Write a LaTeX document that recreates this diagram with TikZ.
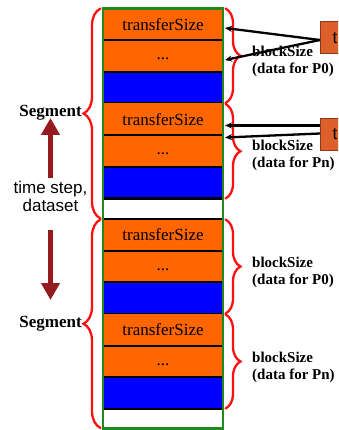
\documentclass[tikz,border=0pt]{standalone}
\usepackage{fontspec}
\setmainfont{Liberation Serif}
\setsansfont{Liberation Sans}
\usetikzlibrary{arrows.meta,decorations.pathreplacing}
\definecolor{rowor}{HTML}{FF6600}
\definecolor{rowbl}{HTML}{0000FF}
\definecolor{colgr}{HTML}{1E8A1E}
\definecolor{brred}{HTML}{FF1010}
\definecolor{arrred}{HTML}{951B1E}
\definecolor{boxor}{HTML}{DD5F2A}
\definecolor{boxbd}{HTML}{8A3A18}
\tikzset{
  cell/.style={minimum width=120pt, minimum height=31.67pt, inner sep=0pt, outer sep=0pt,
    font=\fontsize{17}{17}\selectfont},
  orcell/.style={cell, fill=rowor},
  blcell/.style={cell, fill=rowbl},
  sepline/.style={line width=2pt, black},
  botline/.style={line width=2.6pt, black},
  colside/.style={line width=2.6pt, colgr},
  bracestyle/.style={brred, line width=2.3pt, line cap=round,
    decorate, decoration={brace, amplitude=#1}},
  seglabel/.style={font=\fontsize{17}{17}\selectfont\bfseries, inner sep=0pt},
  blabel/.style={font=\fontsize{15}{17}\selectfont\bfseries, align=left, anchor=north west, inner sep=0pt},
  bigarrow/.style={arrred, line width=5pt, -{Triangle[length=17pt,width=18pt]}},
  tbox/.style={fill=boxor, draw=boxbd, line width=1pt, minimum height=32pt, text width=20pt,
    inner xsep=12pt, align=left, anchor=west, font=\sffamily\fontsize{17}{17}\selectfont},
  ptr/.style={black, line width=2.3pt, -{Stealth[length=7pt,width=6pt]}}
}
\begin{document}
\begin{tikzpicture}[x=1pt,y=-1pt]
\useasboundingbox (0,0) rectangle (338,430);
\clip (0,0) rectangle (338,430);
% column background
\fill[white] (103,8.5) rectangle (223,428);
% groups
\foreach \g/\yo in {1/8.5, 2/103.5, 3/219, 4/314}{
  \node[orcell] (t\g) at (163,\yo+15.83) {transferSize};
  \node[orcell] (d\g) at (163,\yo+47.5) {\smash{\raisebox{-4pt}{...}}};
  \node[blcell] (b\g) at (163,\yo+79.17) {};
  \draw[sepline] (t\g.south west) -- (t\g.south east);
  \draw[sepline] (d\g.south west) -- (d\g.south east);
  \draw[botline] (b\g.south west) -- (b\g.south east);
}
\draw[sepline] (103,219) -- (223,219);
% column green border
\draw[colside] (103,8.5) -- (223,8.5);
\draw[colside] (103,7.5) -- (103,428.5) -- (223,428.5) -- (223,7.5);
% segment braces
\draw[bracestyle=17pt] (100.5,218.5) -- (100.5,8.5);
\draw[bracestyle=17pt] (100.5,428) -- (100.5,219.5);
\node[seglabel] (seg1) at (50.5,113) {Segment};
\node[seglabel] (seg2) at (50.5,323.5) {Segment};
% block braces
\foreach \a/\b in {8.5/103, 104/198.5, 219.5/313.5, 314.5/408.5}{
  \draw[bracestyle=15pt] (225.5,\a) -- (225.5,\b);
}
\node[blabel] (bs1) at (252,46) {blockSize\\(data for P0)};
\node[blabel] (bs2) at (252,139.5) {blockSize\\(data for Pn)};
\node[blabel] (bs3) at (252,256.5) {blockSize\\(data for P0)};
\node[blabel] (bs4) at (252,351.5) {blockSize\\(data for Pn)};
% time step arrows
\node[font=\sffamily\fontsize{17}{17.5}\selectfont, align=center, inner sep=0pt] (ts) at (50.5,196.5) {time step,\\dataset};
\coordinate (upS) at (50.5,178);
\coordinate (upE) at (50.5,118);
\coordinate (dnS) at (50.5,230);
\coordinate (dnE) at (50.5,300);
\draw[bigarrow] (upS) -- (upE);
\draw[bigarrow] (dnS) -- (dnE);
% pointer boxes
\node[tbox] (pb1) at (320,38) {t};
\node[tbox] (pb2) at (320,134.5) {t};
\coordinate (a1) at (225,28);
\coordinate (a2) at (225,60);
\coordinate (a3) at (225,125.5);
\coordinate (a4) at (225,137.5);
\coordinate (s1) at (320,40);
\coordinate (s3) at (320,125.5);
\coordinate (s4) at (320,133.5);
\draw[ptr] (s1) -- (a1);
\draw[ptr] (s1) -- (a2);
\draw[ptr] (s3) -- (a3);
\draw[ptr] (s4) -- (a4);
\end{tikzpicture}
\end{document}
